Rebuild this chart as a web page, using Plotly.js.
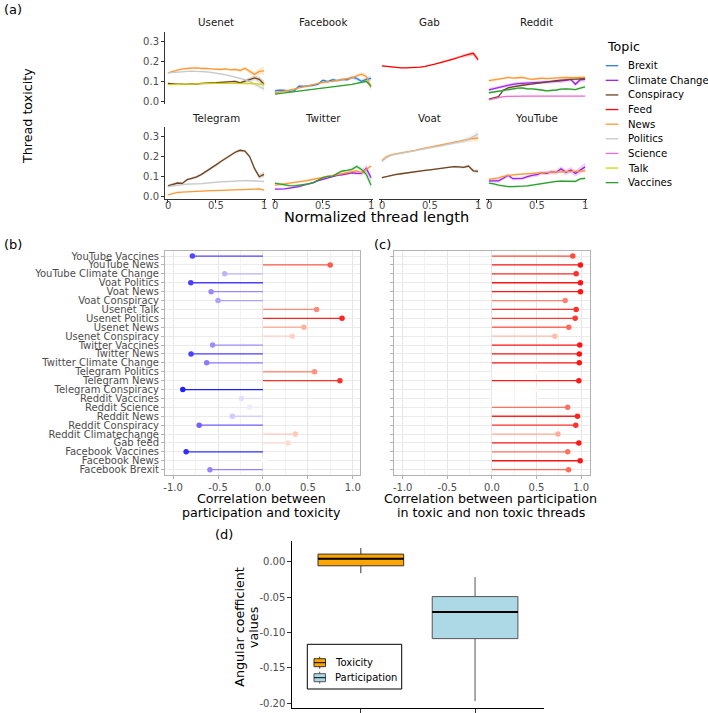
<!DOCTYPE html>
<html><head><meta charset="utf-8">
<script src="https://cdn.plot.ly/plotly-3.0.1.min.js"></script>
<style>html,body{margin:0;padding:0;background:#fff}</style>
</head><body><div id="chart" style="width:708px;height:713px"></div>
<script>
// ================= DATA =================
// Panel (a): normalized thread length grid
const tGrid = [0,0.05,0.1,0.15,0.2,0.25,0.3,0.35,0.4,0.45,0.5,0.55,0.6,0.65,0.7,0.75,0.8,0.85,0.9,0.95,1];
const topics = ['Brexit','Climate Change','Conspiracy','Feed','News','Politics','Science','Talk','Vaccines'];
const topicColors = ['#2f7fd6','#a020f0','#6e4320','#ff0000','#ff9933','#c8c8c8','#f46bd4','#d4d40e','#2ca02c'];
const platforms = ['Usenet','Facebook','Gab','Reddit','Telegram','Twitter','Voat','YouTube'];
const xTickVals = [0,0.5,1];
const xTickText = ['0','0.5','1'];
const yTickVals = [0,0.1,0.2,0.3];
const yTickText = ['0.0','0.1','0.2','0.3'];

// Usenet
const usenet_conspiracy = [0.090,0.087,0.085,0.085,0.084,0.088,0.086,0.090,0.090,0.092,0.093,0.095,0.096,0.100,0.100,0.092,0.100,0.110,0.117,0.110,0.085];
const usenet_conspiracy_se = [0.004,0.003,0.003,0.003,0.003,0.003,0.003,0.003,0.003,0.003,0.004,0.004,0.004,0.005,0.006,0.007,0.008,0.010,0.012,0.015,0.018];
const usenet_news = [0.143,0.150,0.158,0.163,0.165,0.166,0.168,0.165,0.166,0.163,0.162,0.160,0.163,0.158,0.160,0.155,0.166,0.152,0.135,0.150,0.153];
const usenet_news_se = [0.005,0.004,0.004,0.004,0.004,0.004,0.004,0.004,0.004,0.004,0.005,0.005,0.005,0.006,0.007,0.008,0.009,0.011,0.014,0.017,0.020];
const usenet_politics = [0.143,0.145,0.148,0.150,0.152,0.152,0.150,0.150,0.148,0.145,0.142,0.138,0.133,0.128,0.122,0.115,0.108,0.098,0.085,0.072,0.062];
const usenet_politics_se = [0.004,0.003,0.003,0.003,0.003,0.003,0.003,0.003,0.003,0.003,0.004,0.004,0.004,0.005,0.005,0.006,0.007,0.008,0.010,0.012,0.015];
const usenet_talk = [0.083,0.084,0.083,0.085,0.086,0.087,0.087,0.088,0.088,0.089,0.090,0.090,0.090,0.090,0.091,0.090,0.090,0.089,0.088,0.086,0.085];
const usenet_talk_se = [0.003,0.003,0.003,0.003,0.003,0.003,0.003,0.003,0.003,0.003,0.003,0.003,0.003,0.003,0.003,0.004,0.004,0.004,0.005,0.005,0.006];
// Facebook
const facebook_brexit = [0.052,0.055,0.054,0.050,0.052,0.075,0.074,0.076,0.080,0.086,0.105,0.098,0.108,0.104,0.110,0.108,0.120,0.115,0.100,0.110,0.115];
const facebook_brexit_se = [0.009,0.008,0.008,0.007,0.007,0.007,0.007,0.007,0.007,0.007,0.007,0.007,0.007,0.007,0.008,0.008,0.009,0.010,0.011,0.012,0.014];
const facebook_news = [0.042,0.045,0.050,0.055,0.060,0.065,0.070,0.076,0.083,0.090,0.095,0.098,0.100,0.104,0.107,0.112,0.118,0.128,0.136,0.125,0.070];
const facebook_news_se = [0.003,0.003,0.003,0.003,0.003,0.003,0.003,0.003,0.003,0.003,0.004,0.004,0.004,0.004,0.005,0.005,0.006,0.008,0.010,0.014,0.020];
const facebook_vaccines = [0.035,0.038,0.041,0.044,0.047,0.050,0.053,0.057,0.060,0.063,0.066,0.069,0.072,0.075,0.078,0.080,0.085,0.090,0.095,0.100,0.075];
const facebook_vaccines_se = [0.002,0.002,0.002,0.002,0.002,0.002,0.002,0.002,0.002,0.002,0.002,0.002,0.002,0.002,0.003,0.003,0.003,0.004,0.005,0.007,0.010];
// Gab
const gab_feed = [0.178,0.175,0.172,0.170,0.168,0.168,0.169,0.170,0.172,0.176,0.180,0.187,0.194,0.200,0.207,0.214,0.222,0.230,0.236,0.242,0.210];
const gab_feed_se = [0.003,0.002,0.002,0.002,0.002,0.002,0.002,0.002,0.002,0.002,0.003,0.003,0.003,0.004,0.004,0.005,0.006,0.007,0.009,0.011,0.013];
// Reddit
const reddit_climate = [0.057,0.063,0.070,0.076,0.082,0.085,0.088,0.089,0.090,0.092,0.095,0.094,0.095,0.098,0.100,0.102,0.105,0.110,0.085,0.108,0.110];
const reddit_climate_se = [0.009,0.009,0.009,0.009,0.009,0.009,0.009,0.009,0.009,0.009,0.009,0.009,0.009,0.009,0.009,0.010,0.010,0.010,0.011,0.011,0.012];
const reddit_conspiracy = [0.010,0.015,0.022,0.055,0.067,0.072,0.077,0.080,0.083,0.087,0.090,0.094,0.097,0.100,0.103,0.106,0.108,0.110,0.111,0.112,0.113];
const reddit_conspiracy_se = [0.004,0.004,0.004,0.004,0.004,0.004,0.004,0.004,0.004,0.004,0.004,0.004,0.004,0.004,0.004,0.004,0.004,0.004,0.004,0.005,0.005];
const reddit_news = [0.103,0.106,0.110,0.115,0.120,0.116,0.118,0.120,0.114,0.110,0.113,0.116,0.114,0.116,0.118,0.117,0.120,0.119,0.120,0.121,0.120];
const reddit_news_se = [0.008,0.007,0.007,0.007,0.006,0.006,0.006,0.006,0.006,0.006,0.006,0.006,0.006,0.006,0.006,0.006,0.006,0.006,0.007,0.007,0.008];
const reddit_science = [0.006,0.012,0.018,0.022,0.024,0.025,0.025,0.025,0.025,0.025,0.025,0.025,0.025,0.025,0.025,0.025,0.025,0.025,0.025,0.025,0.025];
const reddit_science_se = [0.003,0.003,0.003,0.003,0.003,0.003,0.003,0.003,0.003,0.003,0.003,0.003,0.003,0.003,0.003,0.003,0.003,0.003,0.003,0.003,0.003];
const reddit_vaccines = [0.042,0.046,0.050,0.055,0.058,0.062,0.065,0.066,0.062,0.062,0.060,0.056,0.052,0.053,0.056,0.060,0.062,0.060,0.058,0.066,0.072];
const reddit_vaccines_se = [0.005,0.005,0.005,0.005,0.005,0.005,0.005,0.005,0.005,0.005,0.005,0.005,0.005,0.005,0.005,0.005,0.005,0.005,0.005,0.005,0.006];
// Telegram
const telegram_conspiracy = [0.052,0.058,0.066,0.064,0.083,0.090,0.097,0.110,0.125,0.142,0.158,0.175,0.192,0.205,0.222,0.232,0.228,0.200,0.140,0.098,0.110];
const telegram_conspiracy_se = [0.006,0.006,0.006,0.006,0.006,0.006,0.006,0.006,0.006,0.006,0.006,0.006,0.006,0.006,0.006,0.007,0.007,0.008,0.010,0.012,0.014];
const telegram_news = [0.006,0.012,0.018,0.020,0.022,0.023,0.024,0.025,0.026,0.027,0.029,0.030,0.032,0.033,0.034,0.035,0.035,0.036,0.038,0.036,0.030];
const telegram_news_se = [0.002,0.002,0.002,0.002,0.002,0.002,0.002,0.002,0.002,0.002,0.002,0.002,0.002,0.002,0.002,0.002,0.002,0.002,0.002,0.003,0.003];
const telegram_politics = [0.048,0.052,0.056,0.058,0.060,0.060,0.062,0.063,0.065,0.068,0.070,0.072,0.073,0.075,0.076,0.077,0.078,0.078,0.076,0.075,0.074];
const telegram_politics_se = [0.005,0.005,0.005,0.005,0.005,0.005,0.005,0.005,0.005,0.005,0.005,0.005,0.005,0.005,0.005,0.005,0.005,0.005,0.005,0.005,0.005];
// Twitter
const twitter_climate = [0.035,0.035,0.036,0.040,0.043,0.048,0.055,0.060,0.068,0.078,0.085,0.090,0.100,0.105,0.108,0.113,0.118,0.115,0.115,0.140,0.093];
const twitter_climate_se = [0.004,0.004,0.004,0.004,0.004,0.004,0.004,0.004,0.004,0.004,0.004,0.004,0.004,0.004,0.005,0.005,0.006,0.008,0.012,0.020,0.018];
const twitter_news = [0.055,0.058,0.061,0.064,0.068,0.072,0.076,0.080,0.085,0.090,0.095,0.100,0.105,0.110,0.115,0.120,0.125,0.128,0.118,0.135,0.152];
const twitter_news_se = [0.004,0.004,0.004,0.004,0.004,0.004,0.004,0.004,0.004,0.004,0.004,0.004,0.004,0.004,0.004,0.004,0.005,0.005,0.006,0.007,0.008];
const twitter_vaccines = [0.065,0.060,0.055,0.053,0.052,0.055,0.060,0.062,0.068,0.080,0.093,0.100,0.100,0.115,0.127,0.130,0.135,0.150,0.135,0.110,0.055];
const twitter_vaccines_se = [0.005,0.005,0.005,0.005,0.005,0.005,0.005,0.005,0.005,0.005,0.005,0.005,0.005,0.005,0.006,0.006,0.008,0.010,0.012,0.015,0.018];
// Voat
const voat_conspiracy = [0.093,0.100,0.105,0.110,0.113,0.117,0.120,0.124,0.128,0.130,0.133,0.136,0.140,0.144,0.148,0.149,0.148,0.145,0.152,0.128,0.125];
const voat_conspiracy_se = [0.004,0.004,0.004,0.004,0.004,0.004,0.004,0.004,0.004,0.004,0.004,0.004,0.004,0.004,0.004,0.005,0.005,0.006,0.006,0.008,0.010];
const voat_news = [0.180,0.200,0.210,0.214,0.218,0.222,0.227,0.232,0.238,0.243,0.247,0.250,0.255,0.260,0.265,0.270,0.275,0.280,0.285,0.292,0.293];
const voat_news_se = [0.005,0.005,0.005,0.005,0.005,0.005,0.005,0.005,0.005,0.005,0.005,0.005,0.005,0.005,0.005,0.006,0.007,0.009,0.011,0.014,0.017];
const voat_politics = [0.175,0.195,0.207,0.212,0.216,0.220,0.225,0.230,0.235,0.240,0.245,0.249,0.253,0.258,0.262,0.268,0.273,0.280,0.288,0.300,0.315];
const voat_politics_se = [0.005,0.005,0.005,0.005,0.005,0.005,0.005,0.005,0.005,0.005,0.005,0.005,0.005,0.005,0.006,0.007,0.008,0.010,0.013,0.016,0.020];
// YouTube
const youtube_climate = [0.077,0.078,0.077,0.090,0.105,0.088,0.090,0.090,0.098,0.105,0.108,0.118,0.115,0.122,0.120,0.138,0.120,0.132,0.115,0.133,0.148];
const youtube_climate_se = [0.010,0.009,0.009,0.009,0.009,0.009,0.009,0.009,0.009,0.009,0.010,0.010,0.010,0.011,0.012,0.013,0.014,0.015,0.016,0.018,0.020];
const youtube_news = [0.085,0.088,0.092,0.100,0.105,0.107,0.110,0.112,0.114,0.116,0.118,0.119,0.120,0.121,0.122,0.122,0.123,0.124,0.125,0.126,0.127];
const youtube_news_se = [0.005,0.005,0.005,0.005,0.005,0.005,0.005,0.005,0.005,0.005,0.005,0.005,0.005,0.005,0.005,0.005,0.005,0.005,0.006,0.006,0.007];
const youtube_vaccines = [0.065,0.062,0.055,0.050,0.048,0.048,0.048,0.050,0.052,0.056,0.060,0.063,0.066,0.070,0.074,0.076,0.075,0.075,0.074,0.087,0.090];
const youtube_vaccines_se = [0.005,0.005,0.005,0.005,0.005,0.005,0.005,0.005,0.005,0.005,0.005,0.005,0.005,0.005,0.005,0.005,0.005,0.005,0.006,0.006,0.007];

// Panels (b) and (c): categories (top to bottom)
const categories = ['YouTube Vaccines','YouTube News','YouTube Climate Change','Voat Politics','Voat News','Voat Conspiracy','Usenet Talk','Usenet Politics','Usenet News','Usenet Conspiracy','Twitter Vaccines','Twitter News','Twitter Climate Change','Telegram Politics','Telegram News','Telegram Conspiracy','Reddit Vaccines','Reddit Science','Reddit News','Reddit Conspiracy','Reddit Climatechange','Gab feed','Facebook Vaccines','Facebook News','Facebook Brexit'];
const corrPartTox = [-0.785,0.749,-0.426,-0.803,-0.577,-0.50,0.597,0.88,0.456,0.326,-0.56,-0.80,-0.626,0.574,0.856,-0.892,-0.24,-0.15,-0.34,-0.71,0.36,0.28,-0.855,0.01,-0.59];
const corrToxNonTox = [0.907,0.993,0.945,0.993,0.993,0.822,0.945,0.934,0.862,0.706,0.985,0.98,0.98,0.49,0.975,0.49,0.47,0.85,0.96,0.94,0.74,0.975,0.85,0.99,0.86];
const corrTickVals = [-1,-0.5,0,0.5,1];
const corrTickText = ['-1.0','-0.5','0.0','0.5','1.0'];

// Panel (d): boxplot statistics
const boxGroups = ['Toxicity','Participation'];
const boxQ1 = [-0.006,-0.1087];
const boxMedian = [0.004,-0.071];
const boxQ3 = [0.0105,-0.0494];
const boxLower = [-0.0164,-0.197];
const boxUpper = [0.019,-0.022];
const boxFill = ['#FFA500','#ADD8E6'];
const boxLine = ['#333333','#555555'];
const dTickVals = [0,-0.05,-0.1,-0.15,-0.2];
const dTickText = ['0.00','-0.05','-0.10','-0.15','-0.20'];

// ================= BUILD =================
const W = 708, H = 713;
const FONT = 'DejaVu Sans';
const facets = [
  [['Conspiracy',usenet_conspiracy,usenet_conspiracy_se],['News',usenet_news,usenet_news_se],['Politics',usenet_politics,usenet_politics_se],['Talk',usenet_talk,usenet_talk_se]],
  [['Brexit',facebook_brexit,facebook_brexit_se],['News',facebook_news,facebook_news_se],['Vaccines',facebook_vaccines,facebook_vaccines_se]],
  [['Feed',gab_feed,gab_feed_se]],
  [['Climate Change',reddit_climate,reddit_climate_se],['Conspiracy',reddit_conspiracy,reddit_conspiracy_se],['News',reddit_news,reddit_news_se],['Science',reddit_science,reddit_science_se],['Vaccines',reddit_vaccines,reddit_vaccines_se]],
  [['Conspiracy',telegram_conspiracy,telegram_conspiracy_se],['News',telegram_news,telegram_news_se],['Politics',telegram_politics,telegram_politics_se]],
  [['Climate Change',twitter_climate,twitter_climate_se],['News',twitter_news,twitter_news_se],['Vaccines',twitter_vaccines,twitter_vaccines_se]],
  [['Conspiracy',voat_conspiracy,voat_conspiracy_se],['News',voat_news,voat_news_se],['Politics',voat_politics,voat_politics_se]],
  [['Climate Change',youtube_climate,youtube_climate_se],['News',youtube_news,youtube_news_se],['Vaccines',youtube_vaccines,youtube_vaccines_se]]
];
function hexToRgb(h){return [parseInt(h.slice(1,3),16),parseInt(h.slice(3,5),16),parseInt(h.slice(5,7),16)];}
function topicColor(t){return topicColors[topics.indexOf(t)];}
function rgba(h,a){const c=hexToRgb(h);return `rgba(${c[0]},${c[1]},${c[2]},${a})`;}

const data = [];
const layout = {
  width: W, height: H, margin: {l:0,r:0,t:0,b:0},
  paper_bgcolor: 'white', plot_bgcolor: 'white', showlegend: false,
  font: {family: FONT, size: 10, color: '#4d4d4d'},
  boxmode: 'overlay',
  annotations: [], shapes: []
};
function ann(text, xpx, ypx, opts){
  layout.annotations.push(Object.assign({text:text, x:xpx/W, y:1-ypx/H, xref:'paper', yref:'paper', showarrow:false, xanchor:'center', yanchor:'middle', font:{family:FONT,size:10,color:'#000'}}, opts||{}));
}

// ---- Panel (a) facets ----
const colLeft = [165,272,379,486], rowTop = [32,127], facW = 101, facH = 72;
facets.forEach((series,i)=>{
  const col = i%4, row = Math.floor(i/4);
  const x0 = colLeft[col], y0 = rowTop[row];
  const sfx = i ? String(i+1) : '';
  layout['xaxis'+sfx] = {domain:[x0/W,(x0+facW)/W], range:[-0.03,1.02], anchor:'y'+sfx, showgrid:false, zeroline:false,
    showline: row===1, linecolor:'#333', linewidth:1, ticks: row===1?'outside':'', ticklen:3, tickcolor:'#333',
    tickvals:xTickVals, showticklabels:false, fixedrange:true};
  layout['yaxis'+sfx] = {domain:[1-(y0+facH)/H,1-y0/H], range:[-0.015,0.35], anchor:'x'+sfx, showgrid:false, zeroline:false,
    showline: col===0, linecolor:'#333', linewidth:1, ticks: col===0?'outside':'', ticklen:3, tickcolor:'#333',
    tickvals:yTickVals, ticktext:yTickText, showticklabels: col===0, tickfont:{family:FONT,size:10,color:'#4d4d4d'}, fixedrange:true};
  // x tick labels of the bottom row, placed as text at the tick values
  if(row===1){
    xTickVals.forEach((tv,k)=>{
      layout.annotations.push({text:xTickText[k], x:tv, xref:'x'+sfx, y:1-205.5/H, yref:'paper', showarrow:false,
        xanchor:'center', yanchor:'middle', font:{family:FONT,size:10,color:'#4d4d4d'}});
    });
  }
  // ribbons first
  series.forEach(([topic, vals, se])=>{
    if(!se) return;
    const up = vals.map((v,k)=>v+se[k]);
    const lo = vals.map((v,k)=>v-se[k]);
    data.push({type:'scatter', mode:'lines', x: tGrid.concat(tGrid.slice().reverse()), y: up.concat(lo.slice().reverse()),
      fill:'toself', fillcolor: rgba(topicColor(topic),0.2), line:{width:0}, hoverinfo:'skip', xaxis:'x'+sfx, yaxis:'y'+sfx});
  });
  series.forEach(([topic, vals])=>{
    data.push({type:'scatter', mode:'lines', x: tGrid, y: vals, name: topic, line:{color: topicColor(topic), width:1.3},
      xaxis:'x'+sfx, yaxis:'y'+sfx});
  });
  ann(platforms[i], x0+facW/2, y0-9.5, {font:{family:FONT,size:10.3,color:'#1a1a1a'}});
});
ann('Thread toxicity', 27, 116, {textangle:-90, font:{family:FONT,size:12.7,color:'#000'}});
ann('Normalized thread length', 376, 217.5, {font:{family:FONT,size:14.5,color:'#000'}});
// legend for (a)
ann('Topic', 605, 46.5, {xanchor:'left', font:{family:FONT,size:12.7,color:'#000'}});
topics.forEach((t,k)=>{
  const yy = 65.7 + 14.62*k;
  layout.shapes.push({type:'line', xref:'paper', yref:'paper', x0:605.7/W, x1:618.3/W, y0:1-yy/H, y1:1-yy/H, line:{color:topicColors[k], width:1.3}});
  ann(t, 625.7, yy, {xanchor:'left', font:{family:FONT,size:10.1,color:'#000'}});
});

// ---- Panels (b) and (c) ----
function mix(a,b,t){return a.map((v,i)=>Math.round(v+(b[i]-v)*t));}
function ramp(stops, t){
  t = Math.max(0, Math.min(1, t));
  const n = stops.length-1, p = t*n, k = Math.min(Math.floor(p), n-1);
  return mix(stops[k], stops[k+1], p-k);
}
const blueStops = [[255,255,255],[222,214,255],[172,154,255],[110,92,255],[20,20,255]];
const redStops  = [[255,255,255],[255,218,208],[255,162,142],[255,100,82],[255,20,20]];
function colB(v){
  const t = Math.pow(Math.min(Math.abs(v)/0.92,1),1.2);
  const c = ramp(v<0?blueStops:redStops, t);
  return `rgb(${c.join(',')})`;
}
function colC(v){
  const t = Math.pow(Math.max(0,Math.min(1,(v-0.45)/0.53)),1.3);
  const c = ramp(redStops, t);
  return `rgb(${c.join(',')})`;
}
const yDomBC = [1-475/H, 1-250.7/H];
function catAxis(anchor, showLabels){
  return {domain:yDomBC, type:'category', categoryorder:'array', categoryarray:categories, range:[categories.length-0.4,-0.6],
    tickmode:'array', tickvals:categories, ticktext:categories,
    anchor:anchor, showgrid:true, gridcolor:'#ebebeb', gridwidth:1, zeroline:false, showline:true, mirror:true, linecolor:'#b3b3b3', linewidth:1,
    ticks:'outside', ticklen:3, tickcolor:'#b3b3b3', showticklabels:showLabels, tickfont:{family:FONT,size:10,color:'#4d4d4d'}, fixedrange:true};
}
function corrAxis(domPx, range, anchor){
  return {domain:[domPx[0]/W, domPx[1]/W], range:range, anchor:anchor, tickvals:corrTickVals, ticktext:corrTickText,
    showgrid:true, gridcolor:'#e6e6e6', gridwidth:1, zeroline:false, showline:true, mirror:true, linecolor:'#b3b3b3', linewidth:1,
    minor:{tickvals:[-0.75,-0.25,0.25,0.75], showgrid:true, gridcolor:'#f3f3f3', gridwidth:1, ticks:''},
    ticks:'outside', ticklen:3, tickcolor:'#b3b3b3', tickfont:{family:FONT,size:10,color:'#4d4d4d'}, fixedrange:true};
}
layout.xaxis9 = corrAxis([165,360], [-1.09,1.08], 'y9');
layout.yaxis9 = catAxis('x9', true);
layout.xaxis10 = corrAxis([394.3,590], [-1.094,1.10], 'y10');
layout.yaxis10 = catAxis('x10', false);

function lollipop(vals, colFn, xa, ya){
  categories.forEach((c,i)=>{
    data.push({type:'scatter', mode:'lines', x:[0, vals[i]], y:[c,c], line:{color:colFn(vals[i]), width:1.3}, hoverinfo:'skip', xaxis:xa, yaxis:ya});
  });
  data.push({type:'scatter', mode:'markers', x:vals, y:categories, marker:{color:vals.map(colFn), size:5.5, line:{width:0}}, xaxis:xa, yaxis:ya});
}
lollipop(corrPartTox, colB, 'x9', 'y9');
lollipop(corrToxNonTox, colC, 'x10', 'y10');
ann('Correlation between', 261, 498.5, {font:{family:FONT,size:12.7,color:'#000'}});
ann('participation and toxicity', 261, 512.5, {font:{family:FONT,size:12.7,color:'#000'}});
ann('Correlation between participation', 490.5, 498.5, {font:{family:FONT,size:12.7,color:'#000'}});
ann('in toxic and non toxic threads', 490.5, 512.5, {font:{family:FONT,size:12.7,color:'#000'}});

// ---- Panel (d) ----
const boxW = 0.75;
layout.xaxis11 = {domain:[292.3/W, 543.6/W], range:[0.4,2.6], anchor:'y11', tickvals:[1,2], ticktext:['',''], showgrid:false, zeroline:false,
  showline:true, linecolor:'#000', linewidth:1, ticks:'outside', ticklen:4, tickcolor:'#333', fixedrange:true};
layout.yaxis11 = {domain:[1-708.3/H, 1-541/H], range:[-0.207,0.029], anchor:'x11', tickvals:dTickVals, ticktext:dTickText, showgrid:false, zeroline:false,
  showline:true, linecolor:'#000', linewidth:1, ticks:'outside', ticklen:4, tickcolor:'#333', tickfont:{family:FONT,size:10,color:'#4d4d4d'}, fixedrange:true};
boxGroups.forEach((g,i)=>{
  data.push({type:'box', name:g, x:[i+1], q1:[boxQ1[i]], median:[boxMedian[i]], q3:[boxQ3[i]], lowerfence:[boxLower[i]], upperfence:[boxUpper[i]],
    width:boxW, whiskerwidth:0, fillcolor:boxFill[i], line:{color:boxLine[i], width:1}, boxpoints:false, hoverinfo:'skip', xaxis:'x11', yaxis:'y11'});
  data.push({type:'scatter', mode:'lines', x:[i+1-boxW/2, i+1+boxW/2], y:[boxMedian[i], boxMedian[i]], line:{color:'#000', width:2}, hoverinfo:'skip', xaxis:'x11', yaxis:'y11'});
});
ann('Angular coefficient', 240, 626.7, {textangle:-90, font:{family:FONT,size:12.7,color:'#000'}});
ann('values', 253.5, 627.5, {textangle:-90, font:{family:FONT,size:12.7,color:'#000'}});
// legend (d)
function pxShape(obj){ layout.shapes.push(Object.assign({xref:'paper', yref:'paper'}, obj)); }
pxShape({type:'rect', x0:307.3/W, x1:401.7/W, y0:1-689/H, y1:1-644.3/H, line:{color:'#000', width:1}, fillcolor:'white'});
boxGroups.forEach((g,k)=>{
  const yy = 662.7 + 15*k;
  pxShape({type:'line', x0:319.7/W, x1:319.7/W, y0:1-(yy+6)/H, y1:1-(yy-6)/H, line:{color:boxLine[k], width:1}});
  pxShape({type:'rect', x0:314/W, x1:325.5/W, y0:1-(yy+4)/H, y1:1-(yy-4)/H, line:{color:boxLine[k], width:1}, fillcolor:boxFill[k]});
  pxShape({type:'line', x0:314/W, x1:325.5/W, y0:1-yy/H, y1:1-yy/H, line:{color:'#000', width:1}});
  ann(g, 333, yy, {xanchor:'left', font:{family:FONT,size:10,color:'#000'}});
});

// panel tags
ann('(a)', 2, 9, {xanchor:'left', font:{family:FONT,size:13,color:'#000'}});
ann('(b)', 2, 244, {xanchor:'left', font:{family:FONT,size:13,color:'#000'}});
ann('(c)', 372, 244, {xanchor:'left', font:{family:FONT,size:13,color:'#000'}});
ann('(d)', 213, 534.5, {xanchor:'left', font:{family:FONT,size:13,color:'#000'}});

Plotly.newPlot('chart', data, layout, {displayModeBar:false, staticPlot:true});
</script></body></html>
